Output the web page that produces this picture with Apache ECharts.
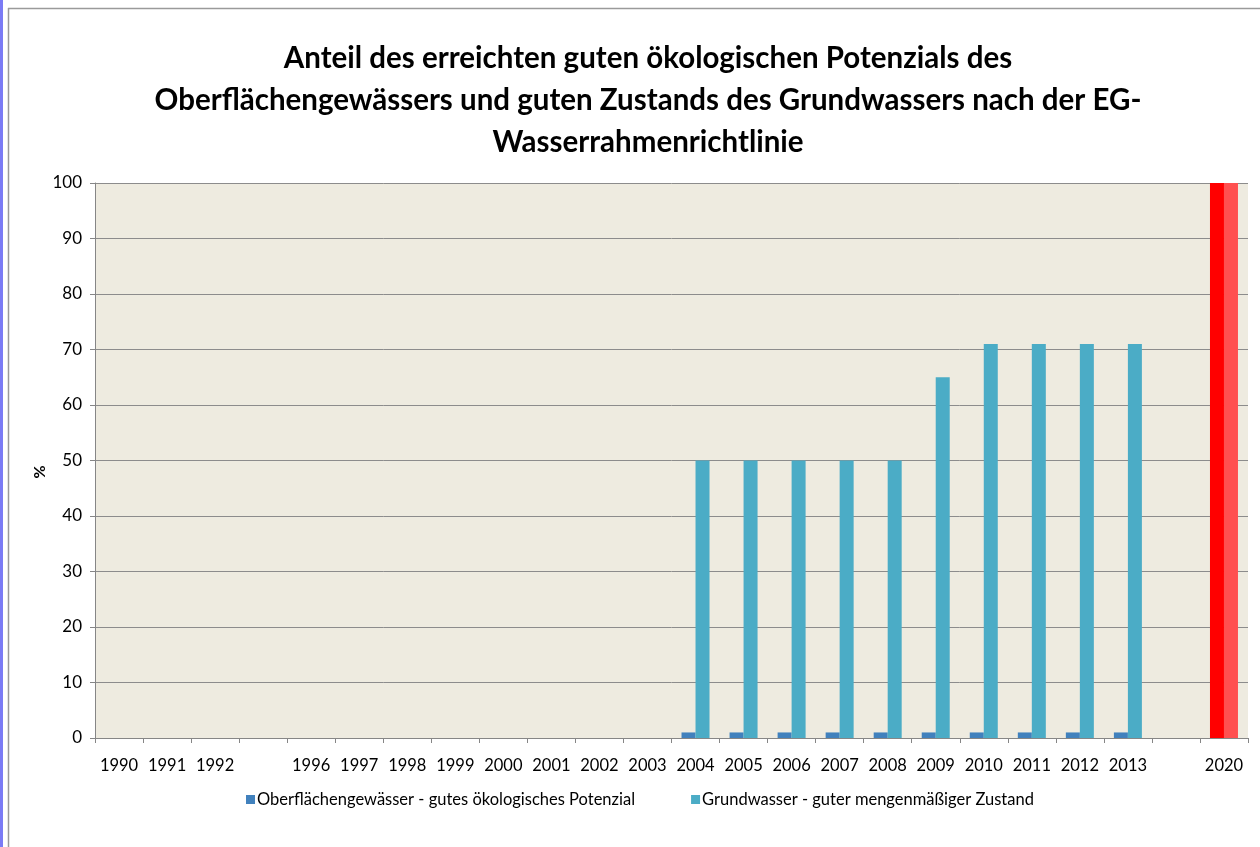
<!DOCTYPE html>
<html lang="de">
  <head>
    <meta charset="UTF-8" />
    <title>Wasserrahmenrichtlinie</title>
    <script src="https://cdn.jsdelivr.net/npm/echarts@6/dist/echarts.min.js"></script>
    <style>
      html, body { margin: 0; padding: 0; background: #fff; }
      #chart { width: 1260px; height: 847px; }
    </style>
  </head>
  <body>
    <div id="chart"></div>
    <script>
      // Daten
      const years = [
        "1990", "1991", "1992", "", "1996", "1997", "1998", "1999", "2000",
        "2001", "2002", "2003", "2004", "2005", "2006", "2007", "2008",
        "2009", "2010", "2011", "2012", "2013", "", "2020",
      ];
      const surfaceWater = [
        null, null, null, null, null, null, null, null, null, null, null, null,
        1, 1, 1, 1, 1, 1, 1, 1, 1, 1, null, 100,
      ];
      const groundWater = [
        null, null, null, null, null, null, null, null, null, null, null, null,
        50, 50, 50, 50, 50, 65, 71, 71, 71, 71, null, 100,
      ];
      const targetYear = "2020";

      const COLORS = {
        surface: "#4181BD",
        ground: "#4BACC6",
        surfaceTarget: "#FF0000",
        groundTarget: "#FF5050",
        grid: "#8c8c8c",
      };

      const withTarget = (values, color) =>
        values.map((v, i) =>
          years[i] === targetYear ? { value: v, itemStyle: { color } } : v
        );

      const chart = echarts.init(document.getElementById("chart"));
      chart.setOption({
        animation: false,
        textStyle: { fontFamily: "Lato, 'DejaVu Sans', sans-serif" },
        title: {
          text:
            "Anteil des erreichten guten ökologischen Potenzials des\n" +
            "Oberflächengewässers und guten Zustands des Grundwassers nach der EG-\n" +
            "Wasserrahmenrichtlinie",
          left: 643,
          textAlign: "center",
          top: 32,
          textStyle: {
            fontFamily: "Lato",
            fontWeight: "bold",
            fontSize: 29.5,
            lineHeight: 42,
            color: "#000",
          },
        },
        graphic: [
          { type: "rect", shape: { x: 0, y: 0, width: 3, height: 847 }, style: { fill: "#7b7bf5" } },
          { type: "line", shape: { x1: 8.5, y1: 8, x2: 8.5, y2: 847 }, style: { stroke: "#9a9a9a", lineWidth: 1.5 } },
          { type: "line", shape: { x1: 8, y1: 8.5, x2: 1260, y2: 8.5 }, style: { stroke: "#9a9a9a", lineWidth: 1.5 } },
          {
            type: "text",
            x: 40,
            y: 472,
            rotation: Math.PI / 2,
            style: {
              text: "%",
              fontFamily: "Lato",
              fontWeight: "bold",
              fontSize: 16,
              fill: "#000",
              align: "center",
              verticalAlign: "middle",
            },
          },
        ],
        grid: {
          left: 95,
          right: 12,
          top: 183,
          bottom: 109,
          show: true,
          backgroundColor: "#EEEBE0",
          borderWidth: 0,
        },
        legend: {
          top: 786,
          left: 241,
          itemWidth: 9,
          itemHeight: 9,
          itemGap: 56,
          icon: "rect",
          textStyle: { fontFamily: "Lato", fontSize: 16.5, color: "#000", padding: [0, 0, 0, -3] },
          data: [
            { name: "Oberflächengewässer - gutes ökologisches Potenzial", itemStyle: { color: COLORS.surface } },
            { name: "Grundwasser - guter mengenmäßiger Zustand", itemStyle: { color: COLORS.ground } },
          ],
        },
        xAxis: {
          type: "category",
          data: years,
          boundaryGap: true,
          axisLine: { lineStyle: { color: "#868686", width: 1 } },
          axisTick: { show: true, interval: 0, length: 5, lineStyle: { color: "#868686" } },
          axisLabel: { interval: 0, margin: 19, fontSize: 16.5, color: "#000", fontFamily: "Lato" },
        },
        yAxis: {
          type: "value",
          min: 0,
          max: 100,
          interval: 10,
          axisLine: { show: true, lineStyle: { color: "#868686" } },
          axisTick: { show: true, length: 5, lineStyle: { color: "#868686" } },
          axisLabel: { margin: 13, fontSize: 17, color: "#000", fontFamily: "Lato" },
          splitLine: { lineStyle: { color: COLORS.grid, width: 1 } },
        },
        series: [
          {
            name: "Oberflächengewässer - gutes ökologisches Potenzial",
            type: "bar",
            barWidth: 14,
            barGap: "0%",
            itemStyle: { color: COLORS.surface },
            data: withTarget(surfaceWater, COLORS.surfaceTarget),
          },
          {
            name: "Grundwasser - guter mengenmäßiger Zustand",
            type: "bar",
            barWidth: 14,
            barGap: "0%",
            itemStyle: { color: COLORS.ground },
            data: withTarget(groundWater, COLORS.groundTarget),
          },
        ],
      });
    </script>
  </body>
</html>
